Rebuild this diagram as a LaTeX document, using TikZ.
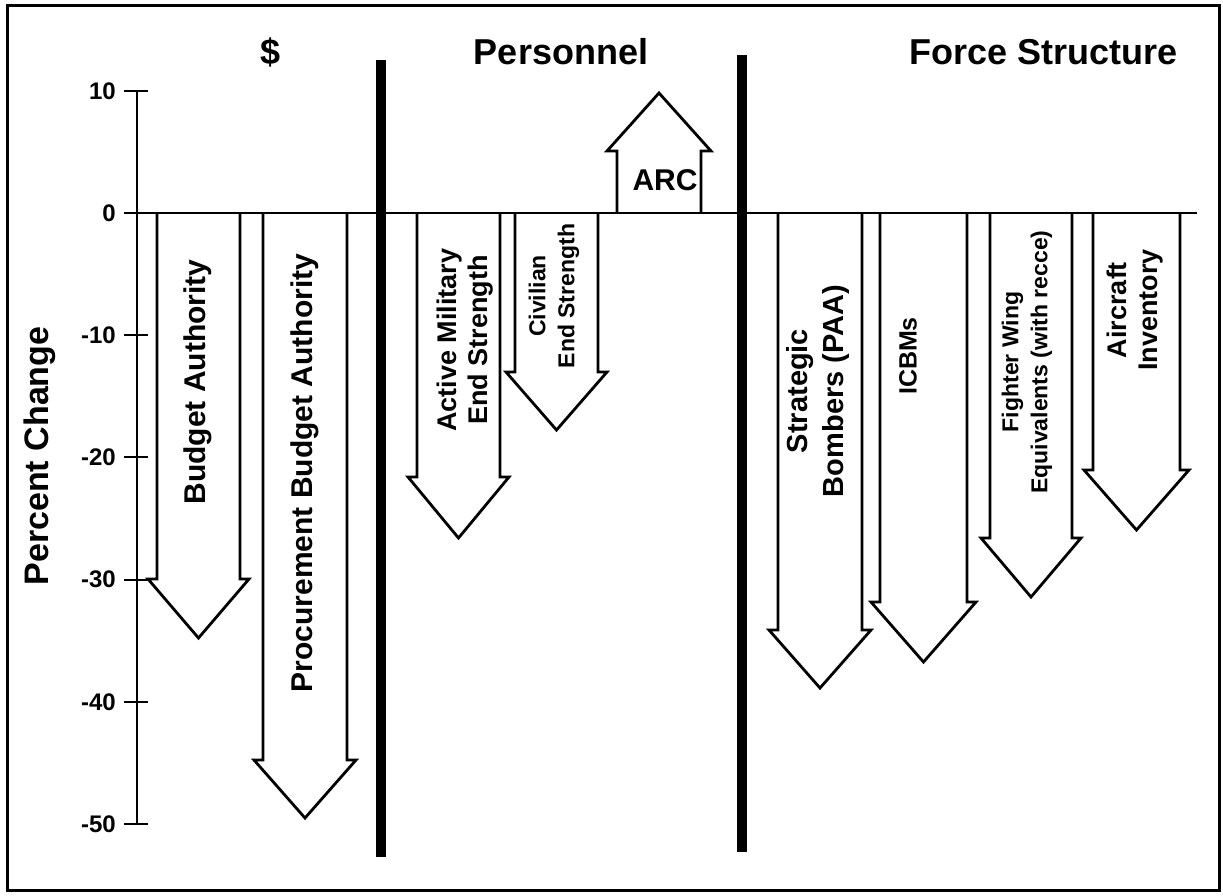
\documentclass[tikz,border=0pt]{standalone}
\usepackage{fontspec}
\setmainfont{Liberation Sans}
\begin{document}
\begin{tikzpicture}[x=1pt,y=-1pt,
  arrowline/.style={draw=black,line width=2.8pt,line join=miter,fill=white},
  title/.style={font=\bfseries\fontsize{36}{40}\selectfont,inner sep=0pt},
  ticklab/.style={font=\bfseries\fontsize{24}{28}\selectfont,anchor=east,inner sep=0pt},
  biglab/.style={font=\bfseries\fontsize{30}{34}\selectfont,rotate=90,inner sep=0pt,align=center},
  midlab/.style={font=\bfseries\fontsize{27}{31}\selectfont,rotate=90,inner sep=0pt,align=center},
  smalllab/.style={font=\bfseries\fontsize{23}{29}\selectfont,rotate=90,inner sep=0pt,align=center},
  sepline/.style={line width=9.5pt},
  axisline/.style={line width=2pt}]
\useasboundingbox (0,0) rectangle (1223,895);
\fill[white] (0,0) rectangle (1223,895);
\draw[line width=3pt] (7,5) rectangle (1219,890);

% down arrow: xl, xr, base y, tip y
\newcommand{\dnarr}[4]{%
  \pgfmathsetmacro{\cx}{(#1+#2)/2}%
  \draw[arrowline] (#1,213) -- (#1,#3) -- ({#1-9},#3) -- (\cx,#4) -- ({#2+9},#3) -- (#2,#3) -- (#2,213);}

\dnarr{157}{240}{579}{638}
\dnarr{263}{347}{760}{818}
\dnarr{417}{500}{477}{538}
\dnarr{515}{598}{372}{430}
\dnarr{778}{862}{630}{688}
\dnarr{880}{967}{602}{662}
\dnarr{990}{1072}{538}{597}
\dnarr{1093}{1180}{470}{530}
% up arrow ARC
\draw[arrowline] (617,213) -- (617,151) -- (607,151) -- (659,93) -- (711,151) -- (701,151) -- (701,213);

% axis
\draw[axisline] (137,91) -- (137,824);
\foreach \v/\lab in {10/10,0/0,-10/-10,-20/-20,-30/-30,-40/-40,-50/-50}{
  \draw[axisline] (124,{213-12.22*\v}) -- (148,{213-12.22*\v});
  \node[ticklab] (t\lab) at (116,{213-12.22*\v}) {\lab};
}
\coordinate (z0) at (124,213);
\coordinate (z1) at (1197,213);
\draw[axisline] (z0) -- (z1);

% separators
\draw[sepline] (381,60) -- (381,857);
\draw[sepline] (742,55) -- (742,852);

% titles
\node[title] (tdollar) at (271,52) {\$};
\node[title] (tpers) at (561,52) {Personnel};
\node[title] (tforce) at (1044,52) {Force Structure};
\node[font=\bfseries\fontsize{34}{38}\selectfont,rotate=90,inner sep=0pt] (ylab) at (40,456) {Percent Change};

% labels
\node[biglab] (lba) at (198,382) {Budget Authority};
\node[biglab] (lpba) at (305,473) {Procurement Budget Authority};
\node[midlab] (lam) at (465,340) {Active Military\\End Strength};
\node[smalllab] (lcv) at (554,296) {Civilian\\End Strength};
\node[font=\bfseries\fontsize{30}{34}\selectfont,inner sep=0pt] (larc) at (665,180) {ARC};
\node[font=\bfseries\fontsize{29}{36}\selectfont,rotate=90,inner sep=0pt,align=center] (lsb) at (818,391) {Strategic\\Bombers (PAA)};
\node[font=\bfseries\fontsize{25}{30}\selectfont,rotate=90,inner sep=0pt] (lic) at (908,356) {ICBMs};
\node[smalllab] (lfw) at (1027,362) {Fighter Wing\\Equivalents (with recce)};
\node[midlab] (lai) at (1135,310) {Aircraft\\Inventory};
\end{tikzpicture}
\end{document}
